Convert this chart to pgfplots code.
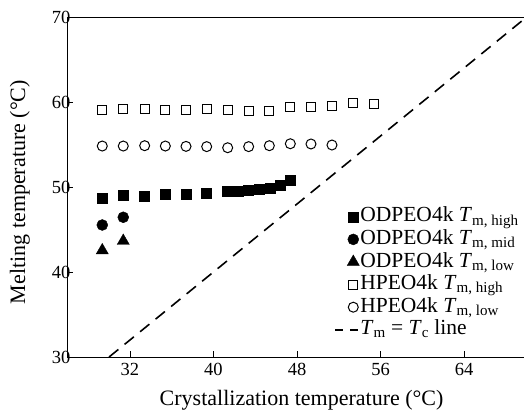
\documentclass[border=0pt]{standalone}
\usepackage{pgfplots}
\pgfplotsset{compat=1.18}
\usepackage{fontspec}
\setmainfont{Liberation Serif}
\pgfplotsset{
  markleg/.style={legend image code/.code={
    \path[draw=none, fill=none] (0pt,-3pt) rectangle (23pt,3pt);
    \draw[mark repeat=2,mark phase=2,##1] plot coordinates {(0pt,0pt) (18pt,0pt) (23pt,0pt)};}},
  dashleg/.style={legend image code/.code={
    \draw[##1, dash pattern=on 8pt off 7pt] (0pt,0pt) -- (23pt,0pt);}},
}
\begin{document}
\begin{tikzpicture}
\begin{axis}[
  name=ax,
  at={(0,0)}, anchor=south west,
  scale only axis,
  width=459.4pt, height=340pt,
  xmin=26, xmax=70, ymin=30, ymax=70,
  xtick={32,40,48,56,64}, ytick={30,40,50,60,70},
  axis x line=box, axis y line=left,
  axis line style={-, line width=0.8pt},
  xtick pos=bottom, ytick pos=left,
  tick align=inside,
  major tick length=6pt,
  tick style={line width=0.8pt, black},
  /pgf/number format/assume math mode=true,
  ticklabel style={font=\fontsize{18.5}{18.5}\selectfont},
  xticklabel style={yshift=-3pt},
  yticklabel style={xshift=6.5pt},
  label style={font=\fontsize{22}{22}\selectfont, inner sep=0pt},
  xlabel={Crystallization temperature (°C)},
  ylabel={Melting temperature (°C)},
  xlabel style={at={(axis description cs:0.51,0)}, anchor=center, yshift=-43pt},
  ylabel style={at={(axis description cs:-0.103,0.485)}, anchor=center},
  legend style={draw=none, fill=none, at={(0.985,0.05)}, anchor=south east,
    font=\fontsize{21.5}{22}\selectfont, row sep=2.6pt, column sep=0pt,
    inner sep=0pt, nodes={inner xsep=1pt, inner ysep=0pt, text height=15pt, text depth=5pt}},
  legend cell align=left,
  clip=false,
]
\addplot[only marks, mark=square*, mark size=5pt, black, markleg] coordinates {
(29.39,48.74) (31.40,49.06) (33.38,48.94) (35.39,49.14) (37.40,49.21) (39.35,49.29)
(41.36,49.45) (42.38,49.53) (43.37,49.61) (44.39,49.73) (45.42,49.88) (46.40,50.24) (47.36,50.79)
};
\addlegendentry{ODPEO4k \textit{T}\textsubscript{m, high}}
\addplot[only marks, mark=*, mark size=5.5pt, black, markleg] coordinates {
(29.35,45.53) (31.36,46.44)
};
\addlegendentry{ODPEO4k \textit{T}\textsubscript{m, mid}}
\addplot[only marks, mark=triangle*, mark size=7pt, black, markleg] coordinates {
(29.35,42.54) (31.36,43.65)
};
\addlegendentry{ODPEO4k \textit{T}\textsubscript{m, low}}
\addplot[only marks, mark=square, mark size=4.5pt, black, mark options={line width=1pt}, markleg] coordinates {
(29.35,59.06) (31.36,59.14) (33.41,59.14) (35.39,59.10) (37.37,59.06) (39.35,59.14) (41.36,59.06)
(43.37,58.94) (45.35,58.98) (47.36,59.38) (49.34,59.38) (51.35,59.56) (53.37,59.88) (55.38,59.76)
};
\addlegendentry{HPEO4k \textit{T}\textsubscript{m, high}}
\addplot[only marks, mark=o, mark size=5pt, black, mark options={line width=1pt}, markleg] coordinates {
(29.35,54.82) (31.36,54.82) (33.41,54.86) (35.39,54.82) (37.37,54.78) (39.35,54.75)
(41.36,54.62) (43.37,54.75) (45.35,54.86) (47.36,55.09) (49.34,55.06) (51.35,54.94)
};
\addlegendentry{HPEO4k \textit{T}\textsubscript{m, low}}
\addplot[black, line width=1.6pt, dash pattern=on 12pt off 8pt, dashleg]
  coordinates {(30,30) (70,70)};
\addlegendentry{\textit{T}\textsubscript{m} = \textit{T}\textsubscript{c} line}
\end{axis}
\pgfresetboundingbox
\useasboundingbox (-67.3pt,-53pt) rectangle (456.7pt,357pt);
\end{tikzpicture}
\end{document}
